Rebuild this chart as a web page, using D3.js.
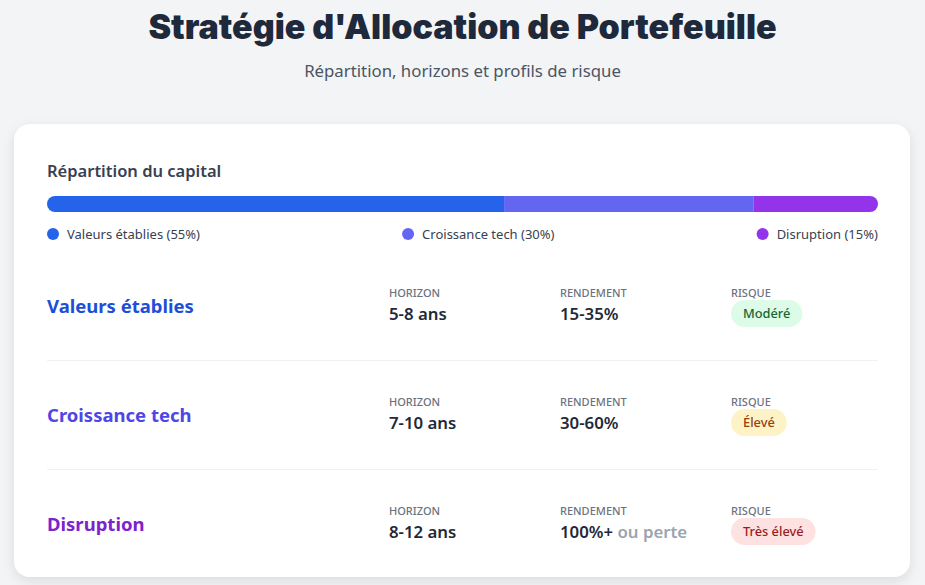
<!DOCTYPE html>
<html>
<head>
<meta charset="utf-8">
<script src="https://cdn.jsdelivr.net/npm/d3@7"></script>
<style>
  html, body { margin: 0; padding: 0; background: #f3f4f6; }
  svg { display: block; font-family: "Noto Sans", "Open Sans", sans-serif; }
</style>
</head>
<body>
<div id="chart"></div>
<script>
var width = 925;
var height = 585;

// donnees
var categories = ["Valeurs établies", "Croissance tech", "Disruption"];
var allocation = [55, 30, 15];
var horizons = ["5-8 ans", "7-10 ans", "8-12 ans"];
var rendements = ["15-35%", "30-60%", "100%+"];
var rendementNotes = ["", "", "ou perte"];
var risques = ["Modéré", "Élevé", "Très élevé"];
var columns = ["HORIZON", "RENDEMENT", "RISQUE"];

var barColors = ["#2563eb", "#6366f1", "#9333ea"];
var titleColors = ["#1d4ed8", "#4f46e5", "#7e22ce"];
var badgeFill = ["#dcfce7", "#fef3c7", "#fee2e2"];
var badgeText = ["#166534", "#92400e", "#991b1b"];

var svg = d3.select("#chart")
  .append("svg")
  .attr("width", width)
  .attr("height", height);

var defs = svg.append("defs");

var shadow = defs.append("filter")
  .attr("id", "shadow")
  .attr("x", "-10%").attr("y", "-10%")
  .attr("width", "120%").attr("height", "130%");
shadow.append("feDropShadow")
  .attr("dx", 0).attr("dy", 4)
  .attr("stdDeviation", 6)
  .attr("flood-color", "#000")
  .attr("flood-opacity", 0.1);

// titre
svg.append("text")
  .attr("x", width / 2)
  .attr("y", 39)
  .attr("text-anchor", "middle")
  .attr("font-family", "Inter, sans-serif")
  .attr("font-weight", 900)
  .attr("font-size", 34)
  .attr("fill", "#1e293b")
  .text("Stratégie d'Allocation de Portefeuille");

svg.append("text")
  .attr("x", width / 2)
  .attr("y", 77)
  .attr("text-anchor", "middle")
  .attr("font-size", 16.8)
  .attr("fill", "#4b5563")
  .text("Répartition, horizons et profils de risque");

// carte
svg.append("rect")
  .attr("x", 14)
  .attr("y", 124)
  .attr("width", 896)
  .attr("height", 453)
  .attr("rx", 16)
  .attr("fill", "#fff")
  .attr("filter", "url(#shadow)");

svg.append("text")
  .attr("x", 47)
  .attr("y", 177)
  .attr("font-size", 16.5)
  .attr("font-weight", 600)
  .attr("fill", "#374151")
  .text("Répartition du capital");

// barre empilee
var x = d3.scaleLinear().domain([0, 100]).range([47, 878]);
var starts = d3.cumsum([0].concat(allocation.slice(0, -1)));

defs.append("clipPath")
  .attr("id", "barClip")
  .append("rect")
  .attr("x", x(0))
  .attr("y", 196)
  .attr("width", x(100) - x(0))
  .attr("height", 16)
  .attr("rx", 8);

svg.append("g")
  .attr("clip-path", "url(#barClip)")
  .selectAll("rect")
  .data(allocation)
  .join("rect")
  .attr("x", (d, i) => x(starts[i]))
  .attr("y", 196)
  .attr("width", (d, i) => x(starts[i] + d) - x(starts[i]))
  .attr("height", 16)
  .attr("fill", (d, i) => barColors[i]);

// legende (space-between)
var legend = svg.append("g").attr("class", "legend");
var items = legend.selectAll("g")
  .data(categories)
  .join("g");

items.append("circle")
  .attr("cx", 6)
  .attr("cy", 0)
  .attr("r", 6)
  .attr("fill", (d, i) => barColors[i]);

items.append("text")
  .attr("x", 20)
  .attr("y", 4.5)
  .attr("font-size", 13)
  .attr("fill", "#374151")
  .text((d, i) => `${d} (${allocation[i]}%)`);

var widths = [];
items.each(function() { widths.push(this.getBBox().width); });
var gap = (x(100) - x(0) - d3.sum(widths)) / (widths.length - 1);
var pos = x(0);
items.attr("transform", (d, i) => {
  var p = pos;
  pos += widths[i] + gap;
  return `translate(${p},234)`;
});

// lignes par categorie
var y = d3.scaleBand().domain(categories).range([251, 578]);
var colX = d3.scaleBand().domain(columns).range([389, 902]);

var rows = svg.selectAll("g.row")
  .data(categories)
  .join("g")
  .attr("class", "row")
  .attr("transform", d => `translate(0,${y(d)})`);

rows.filter((d, i) => i > 0)
  .append("line")
  .attr("x1", 47)
  .attr("x2", 878)
  .attr("y1", 0.5)
  .attr("y2", 0.5)
  .attr("stroke", "#f0f1f3")
  .attr("stroke-width", 1);

rows.append("text")
  .attr("x", 47)
  .attr("y", 62)
  .attr("font-size", 18.5)
  .attr("font-weight", 700)
  .attr("fill", (d, i) => titleColors[i])
  .text(d => d);

columns.forEach(c => {
  rows.append("text")
    .attr("x", colX(c))
    .attr("y", 46)
    .attr("font-size", 11)
    .attr("font-weight", 500)
    .attr("fill", "#6b7280")
    .text(c);
});

rows.append("text")
  .attr("x", colX("HORIZON"))
  .attr("y", 69)
  .attr("font-size", 16.8)
  .attr("font-weight", 600)
  .attr("fill", "#1f2937")
  .text((d, i) => horizons[i]);

var rend = rows.append("text")
  .attr("x", colX("RENDEMENT"))
  .attr("y", 69)
  .attr("font-size", 16.8)
  .attr("font-weight", 600)
  .attr("fill", "#1f2937");
rend.append("tspan").text((d, i) => rendements[i]);
rend.append("tspan")
  .attr("fill", "#9ca3af")
  .text((d, i) => rendementNotes[i] ? " " + rendementNotes[i] : "");

var badge = rows.append("g")
  .attr("transform", `translate(${colX("RISQUE")},49)`);
var badgeRect = badge.append("rect")
  .attr("height", 27)
  .attr("rx", 13.5)
  .attr("fill", (d, i) => badgeFill[i]);
var badgeLabel = badge.append("text")
  .attr("x", 12)
  .attr("y", 18)
  .attr("font-size", 12.8)
  .attr("font-weight", 500)
  .attr("fill", (d, i) => badgeText[i])
  .text((d, i) => risques[i]);
badgeLabel.each(function(d, i) {
  var w = this.getComputedTextLength();
  d3.select(this.parentNode).select("rect").attr("width", w + 24);
});
</script>
</body>
</html>
